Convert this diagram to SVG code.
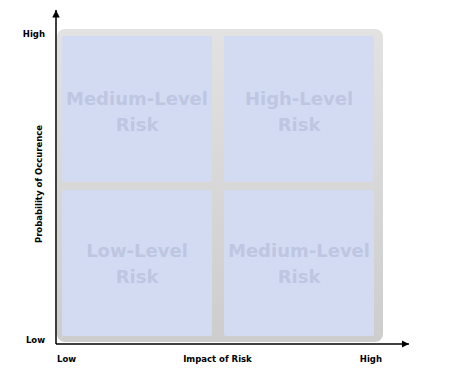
<svg xmlns="http://www.w3.org/2000/svg" width="454" height="372" viewBox="0 0 454 372">
  <style>
    .q { fill: #d3dbf3; }
    .big { font-family: "DejaVu Sans", "Liberation Sans", sans-serif; font-weight: bold; font-size: 18px; fill: #bec6e2; text-anchor: middle; }
    .lbl { font-family: "DejaVu Sans", "Liberation Sans", sans-serif; font-weight: bold; font-size: 8.5px; fill: #000; }
    .axis { stroke: #000; stroke-width: 1.5; fill: none; }
  </style>
  <defs>
    <linearGradient id="frameGrad" x1="0" y1="0" x2="0" y2="1">
      <stop offset="0" stop-color="#e2e2e2"/>
      <stop offset="1" stop-color="#cdcdcd"/>
    </linearGradient>
    <marker id="arrow" viewBox="0 0 10 10" refX="10" refY="5" markerWidth="5" markerHeight="5" orient="auto" markerUnits="strokeWidth">
      <path d="M0,0 L10,5 L0,10 z" fill="#000"/>
    </marker>
  </defs>
  <rect width="454" height="372" fill="#fff"/>
  <g id="frame">
    <rect x="57" y="29" width="326" height="313" rx="8" fill="url(#frameGrad)"/>
  </g>
  <g id="q-medium-top">
    <rect class="q" x="62" y="36" width="150" height="146" rx="2"/>
    <text class="big" x="137" y="105">Medium-Level</text>
    <text class="big" x="137" y="131">Risk</text>
  </g>
  <g id="q-high">
    <rect class="q" x="224" y="36" width="150" height="146" rx="2"/>
    <text class="big" x="299" y="105">High-Level</text>
    <text class="big" x="299" y="131">Risk</text>
  </g>
  <g id="q-low">
    <rect class="q" x="62" y="190" width="150" height="146" rx="2"/>
    <text class="big" x="137" y="257">Low-Level</text>
    <text class="big" x="137" y="283">Risk</text>
  </g>
  <g id="q-medium-bottom">
    <rect class="q" x="224" y="190" width="150" height="146" rx="2"/>
    <text class="big" x="299" y="257">Medium-Level</text>
    <text class="big" x="299" y="283">Risk</text>
  </g>
  <g id="connectors">
    <line class="axis" x1="56" y1="344" x2="56" y2="10" marker-end="url(#arrow)"/>
    <line class="axis" x1="56" y1="344" x2="409" y2="344" marker-end="url(#arrow)"/>
  </g>
  <g id="labels">
    <text class="lbl" x="45" y="37" text-anchor="end">High</text>
    <text class="lbl" x="45" y="343" text-anchor="end">Low</text>
    <text class="lbl" x="57" y="362">Low</text>
    <text class="lbl" x="217.5" y="362" text-anchor="middle">Impact of Risk</text>
    <text class="lbl" x="382" y="362" text-anchor="end">High</text>
    <text class="lbl" transform="translate(42,184) rotate(-90)" text-anchor="middle">Probability of Occurence</text>
  </g>
</svg>
